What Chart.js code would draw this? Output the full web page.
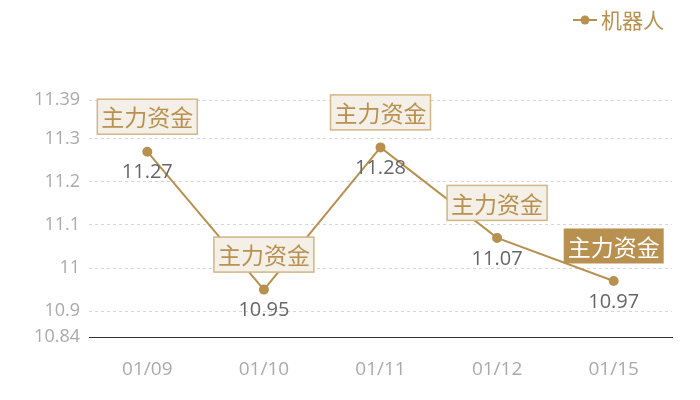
<!DOCTYPE html>
<html>
<head>
<meta charset="utf-8">
<script src="https://cdn.jsdelivr.net/npm/chart.js@4"></script>
<style>
  body { margin: 0; background: #fff; }
  #wrap { width: 700px; height: 400px; }
</style>
</head>
<body>
<div id="wrap"><canvas id="myChart"></canvas></div>
<script>
// dados do gráfico
const datas = ['01/09', '01/10', '01/11', '01/12', '01/15'];
const valores = [11.27, 10.95, 11.28, 11.07, 10.97];
const ticksY = [10.84, 10.9, 11, 11.1, 11.2, 11.3, 11.39];
const nomeSerie = '机器人';
const rotulo = '主力资金';

const dourado = '#b8904f';
const fonteNum = '"Open Sans", "Noto Sans", sans-serif';
const fonteCJK = '"Noto Sans CJK SC", sans-serif';

// desenha os rótulos, as caixas e a legenda
const rotulosPlugin = {
  id: 'rotulos',
  afterDatasetsDraw(chart) {
    const ctx = chart.ctx;
    const meta = chart.getDatasetMeta(0);
    ctx.save();
    meta.data.forEach(function (pt, i) {
      // valor abaixo do ponto
      ctx.font = '20px ' + fonteNum;
      ctx.fillStyle = '#666';
      ctx.textAlign = 'center';
      ctx.textBaseline = 'middle';
      ctx.fillText(String(valores[i]), pt.x, pt.y + 21);

      // caixa acima do ponto
      ctx.font = '23px ' + fonteCJK;
      const w = ctx.measureText(rotulo).width + 8;
      const h = 35;
      const cx = pt.x;
      const cy = pt.y - 35;
      const ultimo = i === valores.length - 1;
      ctx.fillStyle = ultimo ? dourado : '#f4efe7';
      ctx.fillRect(cx - w / 2, cy - h / 2, w, h);
      if (!ultimo) {
        ctx.strokeStyle = '#d2b688';
        ctx.lineWidth = 1.5;
        ctx.strokeRect(cx - w / 2, cy - h / 2, w, h);
      }
      ctx.fillStyle = ultimo ? '#fff' : dourado;
      ctx.fillText(rotulo, cx, cy + 1);
    });

    // legenda
    ctx.strokeStyle = dourado;
    ctx.lineWidth = 2;
    ctx.beginPath();
    ctx.moveTo(573, 20);
    ctx.lineTo(597, 20);
    ctx.stroke();
    ctx.fillStyle = dourado;
    ctx.beginPath();
    ctx.arc(585, 20, 4.5, 0, Math.PI * 2);
    ctx.fill();
    ctx.font = '21px ' + fonteCJK;
    ctx.textAlign = 'left';
    ctx.textBaseline = 'middle';
    ctx.fillText(nomeSerie, 601, 20);
    ctx.restore();
  }
};

const ctx = document.getElementById('myChart');

new Chart(ctx, {
  type: 'line',
  data: {
    labels: datas,
    datasets: [{
      label: nomeSerie,
      data: valores,
      borderColor: dourado,
      backgroundColor: dourado,
      borderWidth: 2,
      pointRadius: 4,
      pointHoverRadius: 4,
      tension: 0
    }]
  },
  options: {
    responsive: true,
    maintainAspectRatio: false,
    animation: false,
    layout: { padding: { top: 100, right: 28, bottom: 0, left: 0 } },
    plugins: {
      legend: { display: false },
      tooltip: { enabled: false }
    },
    scales: {
      x: {
        offset: true,
        grid: { display: false, drawTicks: false },
        border: { display: true, color: '#333', width: 1 },
        ticks: {
          color: '#aaa',
          padding: 21,
          font: { size: 19, family: fonteNum }
        },
        afterFit: function (scale) { scale.height = 63; }
      },
      y: {
        min: 10.84,
        max: 11.39,
        grid: { color: '#d6d6d6', drawTicks: false },
        border: { display: false, dash: [3, 3] },
        ticks: {
          color: '#aaa',
          padding: 9,
          font: { size: 18, family: fonteNum },
          callback: function (v) { return String(v); }
        },
        afterBuildTicks: function (scale) {
          scale.ticks = ticksY.map(v => ({ value: v }));
        },
        afterFit: function (scale) { scale.width = 89; }
      }
    }
  },
  plugins: [rotulosPlugin]
});
</script>
</body>
</html>
